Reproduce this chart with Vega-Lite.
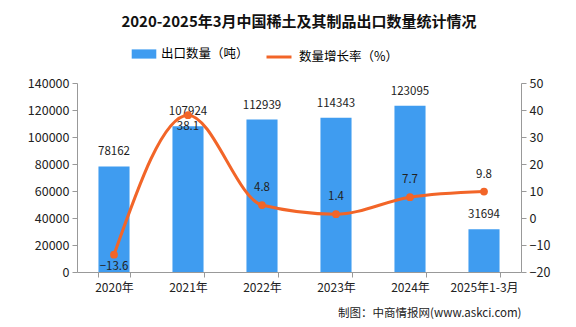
{
  "$schema": "https://vega.github.io/schema/vega-lite/v6.json",
  "width": 576,
  "height": 327,
  "autosize": {"type": "fit", "contains": "padding"},
  "padding": {"left": 27, "right": 26, "top": 15, "bottom": 8},
  "background": "white",
  "title": {
    "text": "2020-2025年3月中国稀土及其制品出口数量统计情况",
    "font": "Noto Sans CJK SC",
    "fontSize": 15,
    "fontWeight": "bold",
    "color": "#111",
    "anchor": "middle",
    "offset": 47
  },
  "config": {
    "font": "Noto Sans CJK SC",
    "view": {"stroke": null},
    "axis": {"labelFont": "Noto Sans CJK SC", "labelFontSize": 12.5, "labelColor": "#222", "domainColor": "#999", "tickColor": "#999", "grid": false, "labelOverlap": false, "labelPadding": 3}
  },
  "data": {
    "values": [
      {"year": "2020年", "qty": 78162, "growth": -13.6},
      {"year": "2021年", "qty": 107924, "growth": 38.1},
      {"year": "2022年", "qty": 112939, "growth": 4.8},
      {"year": "2023年", "qty": 114343, "growth": 1.4},
      {"year": "2024年", "qty": 123095, "growth": 7.7},
      {"year": "2025年1-3月", "qty": 31694, "growth": 9.8}
    ]
  },
  "encoding": {
    "x": {
      "field": "year",
      "type": "nominal",
      "sort": null,
      "scale": {"paddingInner": 0.58, "paddingOuter": 0.29},
      "axis": {
        "labelAngle": 0,
        "tickBand": "extent",
        "labelPadding": 5,
        "labelFontSize": 12,
        "title": "制图：中商情报网(www.askci.com)",
        "titleAnchor": "end",
        "titleFontWeight": "normal",
        "titleFontSize": 11.5,
        "titleColor": "#222",
        "titlePadding": 14
      }
    }
  },
  "layer": [
    {
      "encoding": {
        "y": {"field": "qty", "type": "quantitative", "scale": {"domain": [0, 140000]}, "axis": {"title": null, "values": [0, 20000, 40000, 60000, 80000, 100000, 120000, 140000], "format": "d"}}
      },
      "layer": [
        {
          "mark": {"type": "bar", "color": "#3f9cf0"},
          "encoding": {
            "fill": {"datum": "出口数量（吨）", "type": "nominal", "scale": {"range": ["#3f9cf0"]}, "legend": {"title": null, "orient": "none", "legendX": 56, "legendY": -40, "symbolType": "M-1.2,-0.45H1.2V0.45H-1.2Z", "labelFontSize": 12.5, "symbolSize": 420, "labelOffset": 6}}
          }
        },
        {
          "mark": {"type": "text", "dy": -14, "fontSize": 11.5, "color": "#222"},
          "encoding": {
            "text": {"field": "qty", "type": "quantitative", "format": "d"}
          }
        }
      ]
    },
    {
      "encoding": {
        "y": {"field": "growth", "type": "quantitative", "scale": {"domain": [-20, 50]}, "axis": {"title": null, "orient": "right", "values": [-20, -10, 0, 10, 20, 30, 40, 50]}}
      },
      "layer": [
        {
          "mark": {"type": "line", "interpolate": "monotone", "strokeWidth": 3},
          "encoding": {
            "stroke": {"datum": "数量增长率（%）", "type": "nominal", "scale": {"range": ["#f26528"]}, "legend": {"title": null, "orient": "none", "legendX": 188, "legendY": -40, "labelFontSize": 12.5, "symbolStrokeWidth": 3, "symbolSize": 625, "labelOffset": 6}}
          }
        },
        {
          "mark": {"type": "point", "filled": true, "size": 60, "color": "#f26528", "opacity": 1}
        },
        {
          "transform": [{"filter": "datum.year != '2020年' && datum.year != '2021年'"}],
          "mark": {"type": "text", "dy": -17, "fontSize": 11.5, "color": "#222"},
          "encoding": {
            "text": {"field": "growth", "type": "quantitative", "format": ".1f"}
          }
        },
        {
          "transform": [{"filter": "datum.year == '2020年' || datum.year == '2021年'"}],
          "mark": {"type": "text", "dy": 12, "fontSize": 11.5, "color": "#222"},
          "encoding": {
            "text": {"field": "growth", "type": "quantitative", "format": ".1f"}
          }
        }
      ]
    }
  ],
  "resolve": {"scale": {"y": "independent"}}
}
